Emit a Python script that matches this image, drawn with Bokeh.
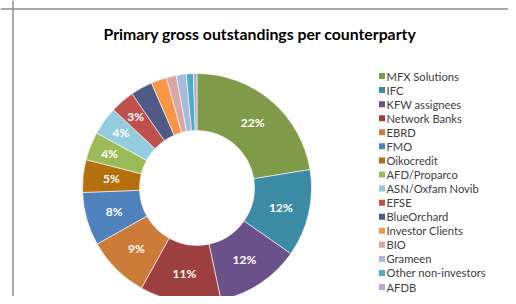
import numpy as np
from bokeh.plotting import figure
from bokeh.models import Range1d, ColumnDataSource, Span
from bokeh.core.properties import value
from bokeh.embed import file_html
from bokeh.resources import INLINE

counterparties = ["MFX Solutions", "IFC", "KFW assignees", "Network Banks", "EBRD", "FMO",
                  "Oikocredit", "AFD/Proparco", "ASN/Oxfam Novib", "EFSE", "BlueOrchard",
                  "Investor Clients", "BIO", "Grameen", "Other non-investors", "AFDB"]
shares = [22.4, 12.3, 11.9, 11.4, 8.8, 7.5, 4.6, 4.0, 4.0, 3.4, 3.1, 2.2, 1.4, 1.4, 1.0, 0.5]
pct_labels = ["22%", "12%", "12%", "11%", "9%", "8%", "5%", "4%", "4%", "3%",
              "", "", "", "", "", ""]
colors = ["#7f9a48", "#3b8ba5", "#6a5189", "#9e3f3f", "#cc7b38", "#4f81bd",
          "#b3700d", "#9bbb59", "#93cddd", "#c0504d", "#4f5a87", "#f79646",
          "#d9a6a6", "#a9b9d9", "#4bacc6", "#b7a8cc"]

W, H = 508, 296
p = figure(width=W, height=H, output_backend="svg", toolbar_location=None,
           x_range=Range1d(0, W), y_range=Range1d(0, H), min_border=0,
           outline_line_color=None, background_fill_color="white")
p.axis.visible = False
p.grid.visible = False

def fy(y):
    return H - y

cx, cy = 196.5, fy(187.5)
r_out, r_in = 114.5, 57.5

vals = np.array(shares)
frac = vals / vals.sum()
cum = np.cumsum(frac)
start = np.pi / 2 - 2 * np.pi * (cum - frac)
end = np.pi / 2 - 2 * np.pi * cum
mid = (start + end) / 2
r_mid = (r_out + r_in) / 2
# narrow slices get their label pushed outward, where the ring is wider
r_lab = np.where(frac < 0.045, r_mid + 8, r_mid)

src = ColumnDataSource(dict(start=start, end=end, color=colors, name=counterparties))
p.annular_wedge(x=cx, y=cy, inner_radius=r_in, outer_radius=r_out,
                start_angle="start", end_angle="end", direction="clock",
                fill_color="color", line_color="white", line_width=0.6, source=src)

lab = ColumnDataSource(dict(x=cx + r_lab * np.cos(mid), y=cy + r_lab * np.sin(mid), t=pct_labels))
p.text(x="x", y="y", text="t", source=lab, text_color="white", text_font=value("Lato"),
       text_font_style="bold", text_font_size="12px", text_align="center",
       text_baseline="middle")

# legend
n = len(counterparties)
ly = fy(75.5 + 14.07 * np.arange(n))
leg = ColumnDataSource(dict(x=[381.5] * n, tx=[386] * n, y=ly, color=colors, name=counterparties))
p.rect(x="x", y="y", width=6, height=6, fill_color="color", line_color=None, source=leg)
p.text(x="tx", y="y", text="name", source=leg, text_color="#404040", text_font=value("Lato"),
       text_font_size="11.2px", text_baseline="middle", text_align="left")

# title
p.text(x=[259.5], y=[fy(33)], text=["Primary gross outstandings per counterparty"],
       text_font=value("Lato"), text_font_style="bold", text_font_size="15.8px",
       text_color="black", text_align="center", text_baseline="middle")

# chart frame (left and top edges visible)
p.add_layout(Span(location=12.5, dimension="height", line_color="#8c8c8c", line_width=1.5))
p.add_layout(Span(location=fy(8.5), dimension="width", line_color="#8c8c8c", line_width=1.5))

open("out.html", "w").write(file_html(p, INLINE))
